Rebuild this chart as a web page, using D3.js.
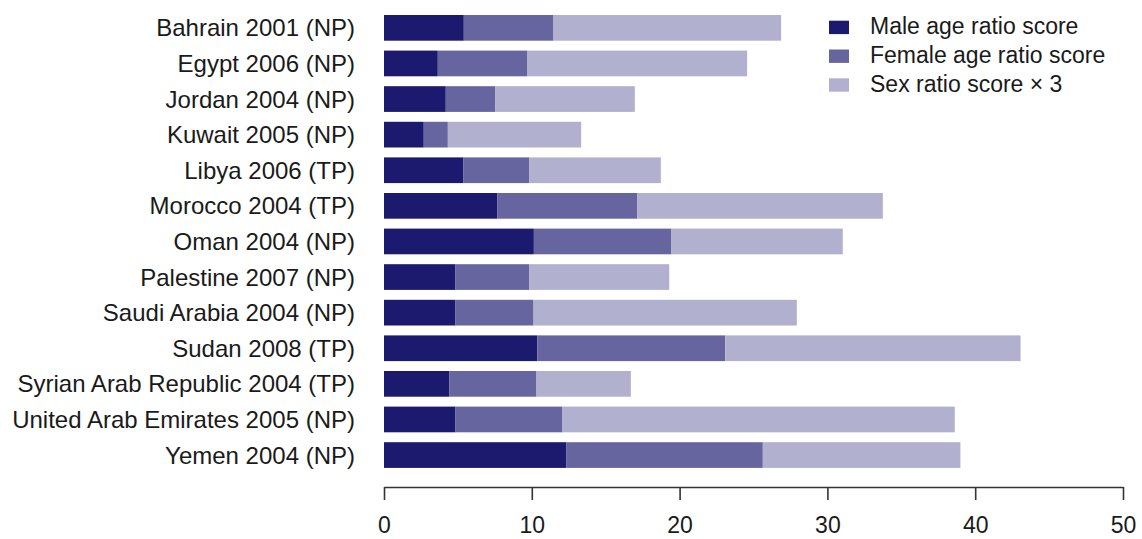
<!DOCTYPE html>
<html>
<head>
<meta charset="utf-8">
<script src="https://cdn.jsdelivr.net/npm/d3@7"></script>
<style>
  html, body { margin: 0; padding: 0; background: #ffffff; }
  svg { display: block; font-family: "Liberation Sans", Arial, sans-serif; }
</style>
</head>
<body>
<svg id="chart" width="1142" height="539"></svg>
<script>
// Survey labels, top to bottom
const categories = [
  "Bahrain 2001 (NP)",
  "Egypt 2006 (NP)",
  "Jordan 2004 (NP)",
  "Kuwait 2005 (NP)",
  "Libya 2006 (TP)",
  "Morocco 2004 (TP)",
  "Oman 2004 (NP)",
  "Palestine 2007 (NP)",
  "Saudi Arabia 2004 (NP)",
  "Sudan 2008 (TP)",
  "Syrian Arab Republic 2004 (TP)",
  "United Arab Emirates 2005 (NP)",
  "Yemen 2004 (NP)"
];

// Component scores (stacked left to right)
const maleAgeRatio   = [5.40, 3.64, 4.18, 2.69, 5.38, 7.68, 10.14, 4.84, 4.84, 10.37, 4.43, 4.84, 12.35];
const femaleAgeRatio = [6.07, 6.07, 3.36, 1.63, 4.46, 9.46,  9.31, 5.00, 5.28, 12.72, 5.89, 7.24, 13.28];
const sexRatioTimes3 = [15.40, 14.86, 9.43, 9.02, 8.89, 16.61, 11.59, 9.46, 17.81, 19.98, 6.38, 26.54, 13.37];

const seriesNames = ["Male age ratio score", "Female age ratio score", "Sex ratio score \u00d7 3"];
const seriesColors = ["#1c1a6e", "#66659f", "#b1b0cf"];
const xTicks = [0, 10, 20, 30, 40, 50];

const rows = categories.map((c, i) => ({
  cat: c, m: maleAgeRatio[i], f: femaleAgeRatio[i], s: sexRatioTimes3[i]
}));

const svg = d3.select("#chart");
const textColor = "#1a1a1a";

const x = d3.scaleLinear().domain([0, 50]).range([384, 1123]);
const y = d3.scaleBand().domain(categories).range([5.1, 477.8]).padding(0.278);

const stack = d3.stack().keys(["m", "f", "s"]);
const layers = stack(rows);

svg.append("g")
  .selectAll("g")
  .data(layers)
  .join("g")
  .attr("fill", (d, i) => seriesColors[i])
  .selectAll("rect")
  .data(d => d)
  .join("rect")
  .attr("x", d => x(d[0]))
  .attr("width", d => x(d[1]) - x(d[0]))
  .attr("y", d => y(d.data.cat))
  .attr("height", y.bandwidth());

// Category labels
const yAxis = svg.append("g")
  .attr("transform", "translate(384,0)")
  .call(d3.axisLeft(y).tickSize(0).tickPadding(29));
yAxis.select(".domain").remove();
yAxis.selectAll("text")
  .attr("fill", textColor)
  .style("font-size", "24px")
  .attr("dy", "0.36em");

// Bottom value axis
const xAxis = svg.append("g")
  .attr("transform", "translate(0,487)")
  .call(d3.axisBottom(x).tickValues(xTicks).tickSize(13).tickSizeOuter(0).tickPadding(6));
xAxis.select(".domain").attr("stroke", "#333").attr("stroke-width", 1.6);
xAxis.selectAll(".tick line").attr("stroke", "#333").attr("stroke-width", 1.6);
xAxis.selectAll(".tick text")
  .attr("fill", textColor)
  .style("font-size", "23px")
  .attr("y", 46)
  .attr("dy", 0);

// Legend
const legend = svg.append("g").attr("transform", "translate(829,0)");
const legendRows = legend.selectAll("g")
  .data(seriesNames)
  .join("g")
  .attr("transform", (d, i) => `translate(0,${20.7 + i * 28.8})`);
legendRows.append("rect")
  .attr("width", 20)
  .attr("height", 13.4)
  .attr("fill", (d, i) => seriesColors[i]);
legendRows.append("text")
  .attr("x", 41)
  .attr("y", 13.6)
  .attr("fill", textColor)
  .style("font-size", "23px")
  .text(d => d);
</script>
</body>
</html>
